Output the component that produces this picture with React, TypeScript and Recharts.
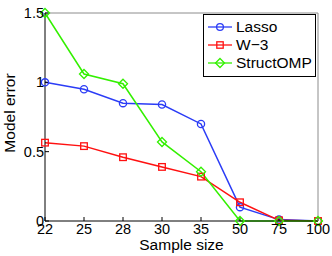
import { LineChart, Line, XAxis, YAxis } from 'recharts'

const sampleSizes = ['22', '25', '28', '30', '35', '50', '75', '100']
const lasso = [1.0, 0.95, 0.85, 0.84, 0.7, 0.1, 0.01, 0]
const w3 = [0.565, 0.54, 0.46, 0.39, 0.32, 0.135, 0.005, 0]
const structOmp = [1.5, 1.06, 0.99, 0.57, 0.355, 0, 0, 0]
const yTicks = [0, 0.5, 1, 1.5]

const BLUE = '#2b3cf6'
const RED = '#ff1010'
const GREEN = '#33f000'
const FONT = '"Liberation Sans", Arial, sans-serif'

const data = sampleSizes.map((s, i) => ({
  size: s,
  lasso: lasso[i],
  w3: w3[i],
  structOmp: structOmp[i],
}))

const circleDot = (color: string) => (p: any) => (
  <circle key={p.index} cx={p.cx} cy={p.cy} r={3.6} fill="none" stroke={color} strokeWidth={1.3} />
)
const squareDot = (color: string) => (p: any) => (
  <rect key={p.index} x={p.cx - 3.3} y={p.cy - 3.3} width={6.6} height={6.6} fill="none" stroke={color} strokeWidth={1.3} />
)
const diamondDot = (color: string) => (p: any) => (
  <path
    key={p.index}
    d={`M${p.cx},${p.cy - 4.5}L${p.cx + 4.5},${p.cy}L${p.cx},${p.cy + 4.5}L${p.cx - 4.5},${p.cy}Z`}
    fill="none"
    stroke={color}
    strokeWidth={1.3}
  />
)

const legendItems = [
  { name: 'Lasso', color: BLUE, kind: 'circle' },
  { name: 'W\u22123', color: RED, kind: 'square' },
  { name: 'StructOMP', color: GREEN, kind: 'diamond' },
]

// legende fora do LineChart, senão o recharts reserva espaço pra ela
function LegendBox() {
  return (
    <div
      style={{
        position: 'absolute',
        left: 203,
        top: 14,
        width: 111,
        height: 58,
        border: '1px solid #000',
        background: '#fff',
        padding: '3px 0 0 0',
        fontFamily: FONT,
        fontSize: 15.5,
        color: '#000',
        boxSizing: 'content-box',
      }}
    >
      {legendItems.map((it) => (
        <div key={it.name} style={{ display: 'flex', alignItems: 'center', height: 18 }}>
          <svg width={28} height={14} style={{ marginLeft: 3, flex: 'none' }}>
            <line x1={1} y1={7} x2={25} y2={7} stroke={it.color} strokeWidth={1.3} />
            {it.kind === 'circle' && <circle cx={13} cy={7} r={3.4} fill="none" stroke={it.color} strokeWidth={1.3} />}
            {it.kind === 'square' && <rect x={9.8} y={3.8} width={6.4} height={6.4} fill="none" stroke={it.color} strokeWidth={1.3} />}
            {it.kind === 'diamond' && (
              <path d="M13,2.5L17.5,7L13,11.5L8.5,7Z" fill="none" stroke={it.color} strokeWidth={1.3} />
            )}
          </svg>
          <span style={{ marginLeft: 1, lineHeight: '18px' }}>{it.name}</span>
        </div>
      ))}
    </div>
  )
}

const XLabel = (props: any) => {
  const vb = props.viewBox
  return (
    <text x={vb.x + vb.width / 2} y={250} textAnchor="middle" fill="#000" fontSize={15.5} fontFamily={FONT}>
      Sample size
    </text>
  )
}

const YLabel = (props: any) => {
  const vb = props.viewBox
  const cx = 15
  const cy = vb.y + vb.height / 2 - 4
  return (
    <text
      x={cx}
      y={cy}
      transform={`rotate(-90 ${cx} ${cy})`}
      textAnchor="middle"
      fill="#000"
      fontSize={15.5}
      fontFamily={FONT}
    >
      Model error
    </text>
  )
}

export default function App() {
  return (
    <div style={{ position: 'absolute', left: 0, top: 0, width: 332, height: 256, background: '#fff' }}>
      <LineChart
        width={332}
        height={256}
        data={data}
        margin={{ top: 12, right: 13, left: 0, bottom: 0 }}
        style={{ fontFamily: FONT }}
      >
        <XAxis
          dataKey="size"
          xAxisId="bottom"
          height={35}
          stroke="#000"
          tickSize={-4}
          tickMargin={7}
          interval={0}
          tick={{ fill: '#000', fontSize: 14.5 }}
          label={<XLabel />}
        />
        <XAxis
          dataKey="size"
          xAxisId="top"
          orientation="top"
          height={1}
          stroke="#8c8c8c"
          tickSize={-4}
          interval={0}
          tick={false}
        />
        <YAxis
          yAxisId="left"
          domain={[0, 1.5]}
          ticks={yTicks}
          width={45}
          stroke="#000"
          tickSize={-4}
          tickMargin={5}
          tick={{ fill: '#000', fontSize: 14.5 }}
          tickFormatter={(v) => String(v)}
          label={<YLabel />}
        />
        <YAxis
          yAxisId="right"
          orientation="right"
          domain={[0, 1.5]}
          ticks={yTicks}
          width={1}
          stroke="#8c8c8c"
          tickSize={-4}
          tick={false}
        />
        <Line
          xAxisId="bottom"
          yAxisId="left"
          dataKey="lasso"
          stroke={BLUE}
          strokeWidth={1.5}
          dot={circleDot(BLUE)}
          isAnimationActive={false}
        />
        <Line
          xAxisId="bottom"
          yAxisId="left"
          dataKey="w3"
          stroke={RED}
          strokeWidth={1.5}
          dot={squareDot(RED)}
          isAnimationActive={false}
        />
        <Line
          xAxisId="bottom"
          yAxisId="left"
          dataKey="structOmp"
          stroke={GREEN}
          strokeWidth={1.5}
          dot={diamondDot(GREEN)}
          isAnimationActive={false}
        />
      </LineChart>
      <LegendBox />
    </div>
  )
}
